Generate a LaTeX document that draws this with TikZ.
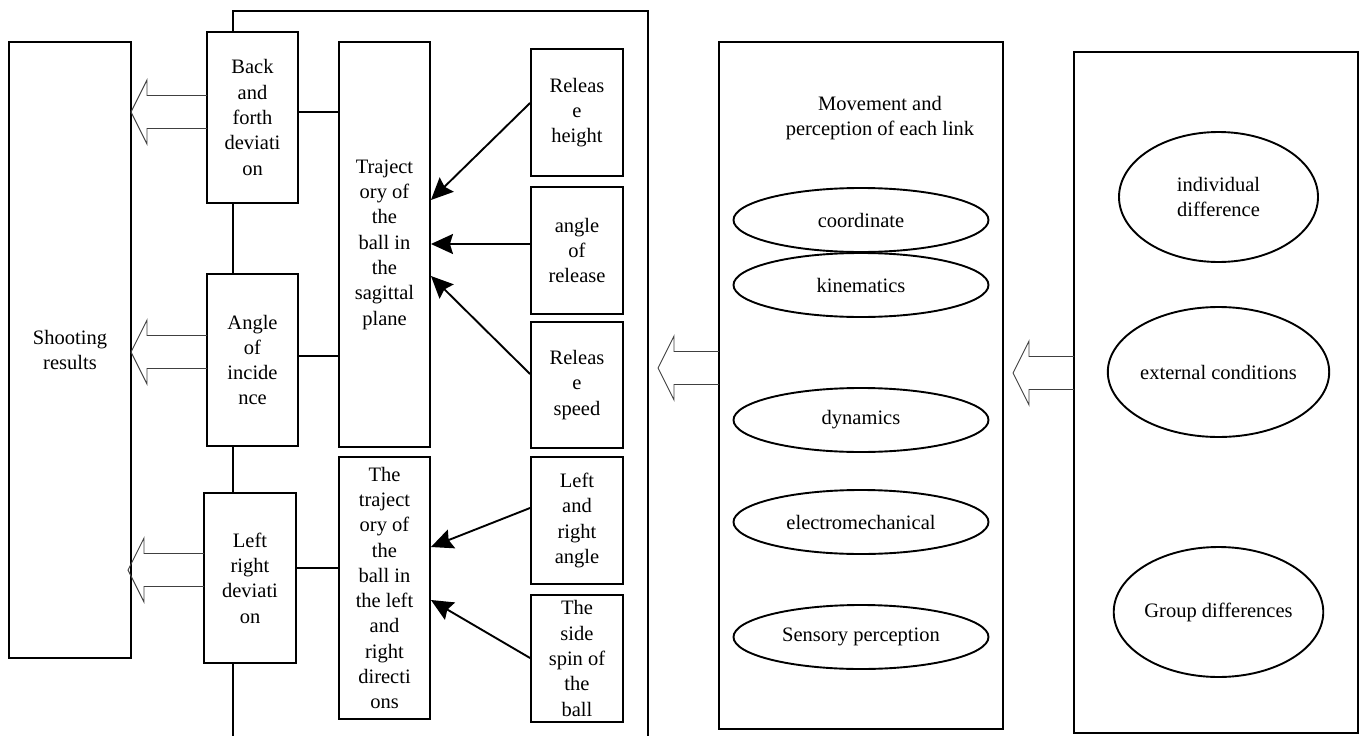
\documentclass[tikz,border=0pt]{standalone}
\usepackage{fontspec}
\setmainfont{Liberation Serif}
\usetikzlibrary{arrows.meta,shapes.geometric,calc}
\newcommand\blockarrow[3]{%
  \draw[hollow] (#3,#2-16.5) -- (#1+16,#2-16.5) -- (#1+16,#2-32) -- (#1,#2) -- (#1+16,#2+32) -- (#1+16,#2+16.5) -- (#3,#2+16.5);}
\begin{document}
\begin{tikzpicture}[x=1pt,y=-1pt,
  every node/.style={font=\fontsize{20.5}{25.3}\selectfont,text=black},
  box/.style={draw=black,line width=1.9pt,fill=white,inner sep=0pt,align=center},
  oval/.style={draw=black,line width=1.9pt,ellipse,inner sep=0pt,align=center},
  line/.style={draw=black,line width=1.9pt},
  arr/.style={draw=black,line width=1.9pt,-{Stealth[length=22pt,width=20pt,inset=3pt,fill=black]}},
  hollow/.style={draw=black!75,line width=0.9pt,line join=miter}]
\useasboundingbox (0,0) rectangle (1360,736);
% outer frame
\draw[line] (233,736) -- (233,11) -- (648,11) -- (648,736);
% left column
\node[box,minimum width=122,minimum height=616] (shoot) at (70,350) {Shooting\\results};
\node[box,minimum width=91,minimum height=171] (back) at (252.5,117.5) {Back\\and\\forth\\deviati\\on};
\node[box,minimum width=91,minimum height=172] (angle) at (252.5,360) {Angle\\of\\incide\\nce};
\node[box,minimum width=92,minimum height=170] (lr) at (250,578) {Left\\right\\deviati\\on};
% trajectories
\node[box,minimum width=91,minimum height=405] (traj1) at (384.5,244.5) {Traject\\ory of\\the\\ball in\\the\\sagittal\\plane};
\node[box,minimum width=91,minimum height=262] (traj2) at (384.5,588) {The\\traject\\ory of\\the\\ball in\\the left\\and\\right\\directi\\ons};
% factors
\node[box,minimum width=92,minimum height=127] (rh) at (577,112.5) {Releas\\e\\height};
\node[box,minimum width=92,minimum height=127] (ar) at (577,250.5) {angle\\of\\release};
\node[box,minimum width=92,minimum height=126] (rs) at (577,385) {Releas\\e\\speed};
\node[box,minimum width=92,minimum height=127] (lra) at (577,520.5) {Left\\and\\right\\angle};
\node[box,minimum width=92,minimum height=127] (ss) at (577,658.5) {The\\side\\spin of\\the\\ball};
% connectors left boxes -> trajectories
\coordinate (c1) at ([yshift=5.5pt]back.east);
\coordinate (c2) at ([yshift=4pt]angle.east);
\coordinate (c3) at ([yshift=10pt]lr.east);
\draw[line] (c1) -- (c1 -| traj1.west);
\draw[line] (c2) -- (c2 -| traj1.west);
\draw[line] (c3) -- (c3 -| traj2.west);
% arrows factors -> trajectories
\draw[arr] ([yshift=9.5pt]rh.west) -- ([yshift=44.5pt]traj1.east);
\draw[arr] ([yshift=6.5pt]ar.west) -- ([yshift=0.5pt]traj1.east);
\draw[arr] ([yshift=11pt]rs.west) -- ([yshift=-31.5pt]traj1.east);
\draw[arr] ([yshift=12.5pt]lra.west) -- ([yshift=41pt]traj2.east);
\draw[arr] ([yshift=0.5pt]ss.west) -- ([yshift=-12pt]traj2.east);
% block arrows to shooting results
\blockarrow{131}{112}{207}
\blockarrow{131}{352}{207}
\blockarrow{128}{570}{204}
% middle panel
\node[box,minimum width=284,minimum height=687] (mid) at (861,385.5) {};
\node[align=center] (midtitle) at (880,118) {Movement and\\perception of each link};
\node[oval,minimum width=255,minimum height=64] (e1) at (861,220) {coordinate};
\node[oval,minimum width=255,minimum height=64] (e2) at (861,285) {kinematics};
\node[oval,minimum width=255,minimum height=64] (e3) at (861,420) {dynamics};
\node[oval,minimum width=255,minimum height=64] (e4) at (861,522) {electromechanical};
\node[oval,minimum width=255,minimum height=64] (e5) at (861,637) {Sensory perception};
\blockarrow{658}{368}{719}
% right panel
\node[box,minimum width=284,minimum height=681] (right) at (1216,392.5) {};
\node[oval,minimum width=199,minimum height=130] (r1) at (1218.5,197) {individual\\difference};
\node[oval,minimum width=199,minimum height=130] (r2) at (1218.5,372) {external conditions};
\node[oval,minimum width=199,minimum height=130] (r3) at (1218.5,612) {Group differences};
\blockarrow{1013}{373}{1074}
\end{tikzpicture}
\end{document}
